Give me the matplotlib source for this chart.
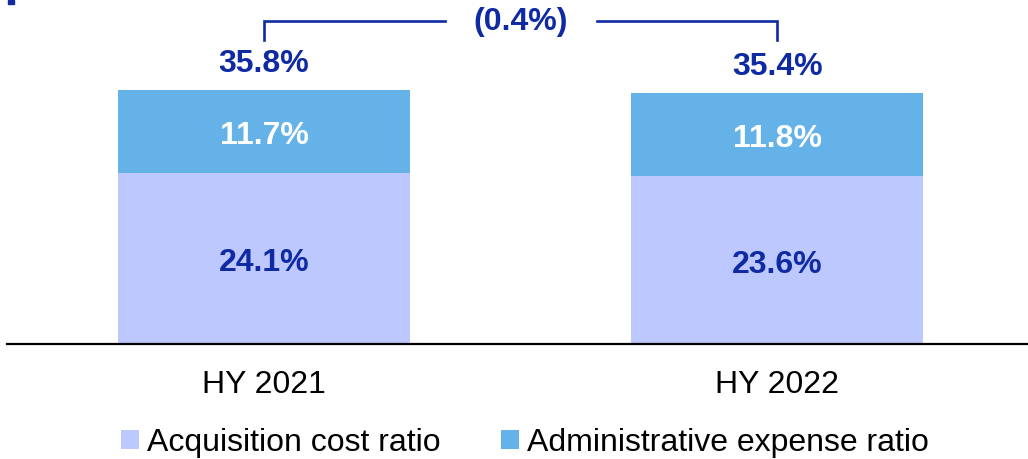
import matplotlib.pyplot as plt
from matplotlib.patches import Rectangle

plt.rcParams['font.family'] = ['Liberation Sans', 'DejaVu Sans']

periods = ["HY 2021", "HY 2022"]
acquisition = [24.1, 23.6]
administrative = [11.7, 11.8]
change_label = "(0.4%)"

c_acq = "#bcc8fe"
c_adm = "#64b2e8"
navy = "#0f2aa2"

fig = plt.figure(figsize=(10.28, 4.59), dpi=100)
ax = fig.add_axes([7 / 1028, 115 / 459, 1021 / 1028, 344 / 459])

x = list(range(len(periods)))
w = 0.569
ax.bar(x, acquisition, w, color=c_acq, label="Acquisition cost ratio")
ax.bar(x, administrative, w, bottom=acquisition, color=c_adm,
       label="Administrative expense ratio")

totals = [a + b for a, b in zip(acquisition, administrative)]
lbl = dict(textcoords="offset points", ha="center", va="center",
           fontsize=23, fontweight="bold")
for i in x:
    ax.annotate(f"{acquisition[i]:.1f}%", (i, acquisition[i] / 2),
                xytext=(0, -3.5), color=navy, **lbl)
    ax.annotate(f"{administrative[i]:.1f}%", (i, acquisition[i] + administrative[i] / 2),
                xytext=(0, -3.5), color="white", **lbl)
    ax.annotate(f"{totals[i]:.1f}%", (i, totals[i]), xytext=(0, 18.5),
                color=navy, **lbl)

# bracket showing the change
y_top, y_bot = 45.5, 42.8
ax.plot([x[0], x[0], 0.353], [y_bot, y_top, y_top], color=navy, lw=1.9,
        solid_joinstyle="miter")
ax.plot([0.649, x[1], x[1]], [y_top, y_top, y_bot], color=navy, lw=1.9,
        solid_joinstyle="miter")
ax.text(0.501, y_top - 0.15, change_label, ha="center", va="center", color=navy,
        fontsize=23, fontweight="bold")

ax.set_xlim(-0.501, 1.489)
ax.set_ylim(0, 48.45)
ax.set_xticks(x)
ax.set_xticklabels(periods, fontsize=23)
ax.tick_params(axis="x", length=0, pad=19)
ax.set_yticks([])
for s in ["top", "left", "right"]:
    ax.spines[s].set_visible(False)
ax.spines["bottom"].set_linewidth(1.6)
ax.spines["bottom"].set_color("black")
ax.patch.set_alpha(0)

ax.legend(loc="center", bbox_to_anchor=(525 / 1028, 16 / 459),
          bbox_transform=fig.transFigure, ncol=2, frameon=False,
          fontsize=23, handlelength=0.55, handleheight=0.55, handletextpad=0.25,
          columnspacing=1.9)

fig.patches.append(Rectangle((8 / 1028, 455 / 459), 6 / 1028, 4 / 459,
                             transform=fig.transFigure, color=navy, zorder=5))

fig.savefig("out.png", dpi=100, facecolor="white")
